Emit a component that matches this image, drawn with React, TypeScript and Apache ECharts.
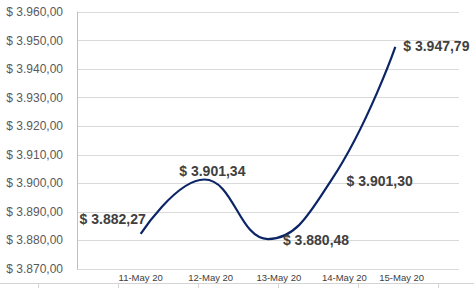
import React, { useEffect, useRef } from "react";
import * as echarts from "echarts";

const categories = ["11-May 20", "12-May 20", "13-May 20", "14-May 20", "15-May 20"];
const prices = [3882.27, 3901.34, 3880.48, 3901.3, 3947.79];
const yMin = 3870;
const yMax = 3960;
const yStep = 10;

// layout-only: where the category texts sit (in axis units) and where each value label sits
const categoryLabelAt = [0, 1.1, 2.17, 3.2, 4.1];
const valueLabelOffsets = [
  [-28, -15],
  [8, -9],
  [48, 1],
  [48, 1],
  [41, -1],
];

function money(v: number): string {
  const [intPart, dec] = v.toFixed(2).split(".");
  const withDots = intPart.replace(/\B(?=(\d{3})+(?!\d))/g, ".");
  return "$ " + withDots + "," + dec;
}

export default function App() {
  const ref = useRef<HTMLDivElement>(null);
  useEffect(() => {
    if (!ref.current) return;
    const chart = echarts.init(ref.current, undefined, { renderer: "svg" });
    const bottomTicks = [38, 118, 198, 278, 358, 438];
    chart.setOption({
      animation: false,
      grid: { left: 77, right: 15, top: 12, bottom: 19, containLabel: false },
      xAxis: {
        type: "value",
        min: -1,
        max: 5,
        axisLine: { show: false, onZero: false },
        axisTick: { show: false },
        splitLine: { show: false },
        axisLabel: {
          customValues: categoryLabelAt,
          formatter: (v: number) => {
            const i = categoryLabelAt.findIndex((c) => Math.abs(c - v) < 1e-6);
            return i >= 0 ? categories[i] : "";
          },
          margin: 3,
          fontFamily: "Liberation Sans, Arial, sans-serif",
          fontSize: 9.5,
          color: "#404040",
        },
      },
      yAxis: {
        type: "value",
        min: yMin,
        max: yMax,
        interval: yStep,
        axisLine: { show: true, onZero: false, lineStyle: { color: "#bfbfbf", width: 1 } },
        axisTick: { show: false },
        splitLine: { show: true, lineStyle: { color: "#d9d9d9", width: 1 } },
        axisLabel: {
          formatter: (v: number) => money(v),
          margin: 14,
          fontFamily: "Liberation Sans, Arial, sans-serif",
          fontSize: 12,
          color: "#595959",
        },
      },
      series: [
        {
          type: "line",
          smooth: 0.45,
          symbol: "circle",
          symbolSize: 1,
          itemStyle: { color: "rgba(0,0,0,0)" },
          lineStyle: { color: "#0b2566", width: 2.2 },
          data: prices.map((p, i) => ({
            value: [i, p],
            label: {
              show: true,
              position: "inside",
              offset: valueLabelOffsets[i],
              formatter: () => money(p),
              fontFamily: "Liberation Sans, Arial, sans-serif",
              fontSize: 14,
              fontWeight: "bold",
              color: "#404040",
            },
          })),
        },
      ],
      graphic: [
        {
          type: "line",
          shape: { x1: 0, y1: 283.5, x2: 474, y2: 283.5 },
          style: { stroke: "#d4d4d4", lineWidth: 1 },
          silent: true,
        },
        ...bottomTicks.map((x) => ({
          type: "line",
          shape: { x1: x + 0.5, y1: 283.5, x2: x + 0.5, y2: 288 },
          style: { stroke: "#d4d4d4", lineWidth: 1 },
          silent: true,
        })),
      ],
    });
    return () => chart.dispose();
  }, []);
  return (
    <div
      ref={ref}
      style={{ position: "fixed", left: 0, top: 0, width: 474, height: 288, background: "#fff" }}
    />
  );
}
